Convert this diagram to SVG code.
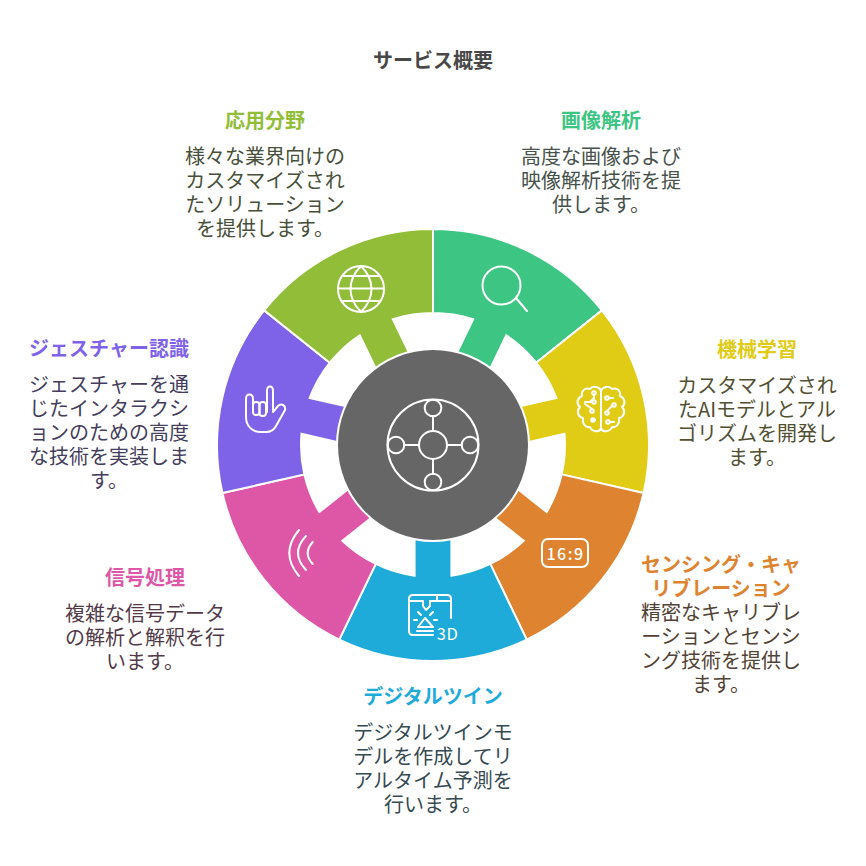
<svg xmlns="http://www.w3.org/2000/svg" width="866" height="866" viewBox="0 0 866 866">
<style>
text{font-family:"Noto Sans CJK JP","Noto Sans",sans-serif;font-size:20px;text-anchor:middle}
.h{font-weight:700}
.i{fill:none;stroke:#fff;stroke-width:2;stroke-linecap:round;stroke-linejoin:round}
.s{stroke:#fff;stroke-width:2}
</style>
<defs><path id="seg" d="M-93.7-194.6A216 216 0 0 1 93.7-194.6L57.3-118.9A132 132 0 0 0 18.4-130.7V-90H-18.4V-130.7A132 132 0 0 0-57.3-118.9Z"/></defs>
<rect width="866" height="866" fill="#fff"/>
<text class="h" x="433" y="68" fill="#484848">サービス概要</text>
<g id="n1"><use href="#seg" class="s" fill="#3CC583" transform="translate(433 445) rotate(25.714)"/>
<g class="i"><circle cx="501.5" cy="285.5" r="19"/><path d="M516 298L527 311"/></g>
<text class="h" x="601" y="128" fill="#3CC583">画像解析</text>
<g fill="#48524c"><text x="601" y="164">高度な画像および</text><text x="601" y="188">映像解析技術を提</text><text x="601" y="212">供します。</text></g></g>
<g id="n2"><use href="#seg" class="s" fill="#E0CB15" transform="translate(433 445) rotate(77.143)"/>
<g class="i"><path d="M601 391V428M601 391C600 387 593 385 590 389C585 387 581 391 582 396C577 398 576 404 580 407C576 411 578 417 583 418C582 424 586 428 590 427C592 432 600 433 601 428M601 391C602 387 609 385 612 389C617 387 621 391 620 396C625 398 626 404 622 407C626 411 624 417 619 418C620 424 616 428 612 427C610 432 602 433 601 428"/><path d="M594 395V398L590 402M592 402H585M592 409L585 404M609 398H613M612 406L607 411M595 420H592M610 422H614"/><circle cx="594" cy="393" r="1.800"/><circle cx="594" cy="402" r="1.800"/><circle cx="592" cy="411" r="1.800"/><circle cx="593" cy="420" r="1.800"/><circle cx="607" cy="398" r="1.800"/><circle cx="614" cy="405" r="1.800"/><circle cx="607" cy="413" r="1.800"/><circle cx="608" cy="422" r="1.800"/></g>
<text class="h" x="757" y="357" fill="#E0CB15">機械学習</text>
<g fill="#524f33"><text x="757" y="393">カスタマイズされ</text><text x="757" y="417">たAIモデルとアル</text><text x="757" y="441">ゴリズムを開発し</text><text x="757" y="465">ます。</text></g></g>
<g id="n3"><use href="#seg" class="s" fill="#DE8431" transform="translate(433 445) rotate(128.571)"/>
<g class="i"><rect x="542" y="539" width="46" height="28" rx="6"/></g>
<text x="565.500" y="560" fill="#fff" style="font-size:16px;font-weight:500;letter-spacing:1.500px">16:9</text>
<text class="h" x="721" y="572" fill="#DE8431">センシング・キャ</text><text class="h" x="721" y="596" fill="#DE8431">リブレーション</text>
<g fill="#524336"><text x="721" y="620">精密なキャリブレ</text><text x="721" y="644">ーションとセンシ</text><text x="721" y="668">ング技術を提供し</text><text x="721" y="692">ます。</text></g></g>
<g id="n4"><use href="#seg" class="s" fill="#1EABDA" transform="translate(433 445) rotate(180)"/>
<g class="i"><path d="M451 618V599Q451 595 447 595H437V601H430M437 601H451M437 595H413Q409 595 409 599V631Q409 635 413 635H433M409 601H423M423 601V606L426 610L430 606V601"/><path d="M425 618L418 627H433ZM417 631H433M418 612L421 615M433 612L430 615M414 620H417M434 620H437"/></g>
<text x="447.500" y="640" fill="#fff" style="font-size:16.500px;font-weight:400;letter-spacing:.5px">3D</text>
<text class="h" x="433" y="704" fill="#1EABDA">デジタルツイン</text>
<g fill="#364a52"><text x="433" y="740">デジタルツインモ</text><text x="433" y="764">デルを作成してリ</text><text x="433" y="788">アルタイム予測を</text><text x="433" y="812">行います。</text></g></g>
<g id="n5"><use href="#seg" class="s" fill="#DE57A7" transform="translate(433 445) rotate(231.429)"/>
<g class="i"><path d="M299 530Q279.6 553 299 576M306 536Q290 553 306 570M312.7 542Q302.7 553 312.7 564"/></g>
<text class="h" x="145" y="585" fill="#DE57A7">信号処理</text>
<g fill="#523a49"><text x="145" y="621">複雑な信号データ</text><text x="145" y="645">の解析と解釈を行</text><text x="145" y="669">います。</text></g></g>
<g id="n6"><use href="#seg" class="s" fill="#7E62E8" transform="translate(433 445) rotate(282.857)"/>
<g class="i"><path d="M253 404V399C253 393 246 393 246 399V417C246 426 252 432 261 432H266C271 432 274 430 276 426L285 410C286 405 281 403 278 406L273 412V391C273 385 267 385 267 391V412"/><rect x="253" y="402" width="6.500" height="13" rx="3"/><rect x="259.500" y="402" width="6.500" height="14" rx="3"/></g>
<text class="h" x="109" y="356" fill="#7E62E8">ジェスチャー認識</text>
<g fill="#443d5c"><text x="109" y="392">ジェスチャーを通</text><text x="109" y="416">じたインタラクシ</text><text x="109" y="440">ョンのための高度</text><text x="109" y="464">な技術を実装しま</text><text x="109" y="488">す。</text></g></g>
<g id="n7"><use href="#seg" class="s" fill="#92BD39" transform="translate(433 445) rotate(334.286)"/>
<g class="i"><circle cx="361" cy="289" r="23"/><path d="M361 266C347 280 347 298 361 312C375 298 375 280 361 266M338 288.500H384M343 276H379M343 301H379"/></g>
<text class="h" x="265" y="128" fill="#92BD39">応用分野</text>
<g fill="#484f3a"><text x="265" y="164">様々な業界向けの</text><text x="265" y="188">カスタマイズされ</text><text x="265" y="212">たソリューション</text><text x="265" y="236">を提供します。</text></g></g>
<g id="center"><circle cx="433" cy="445" r="96" fill="#666" stroke="#fff" stroke-width="2"/>
<g class="i"><circle cx="433" cy="445" r="45.500"/><circle cx="433" cy="445" r="14"/><circle cx="433" cy="408" r="8.300"/><circle cx="433" cy="482" r="8.300"/><circle cx="396" cy="445" r="8.300"/><circle cx="470" cy="445" r="8.300"/><path d="M433 416V431M433 459V474M404 445H419M447 445H462"/></g></g>
</svg>
